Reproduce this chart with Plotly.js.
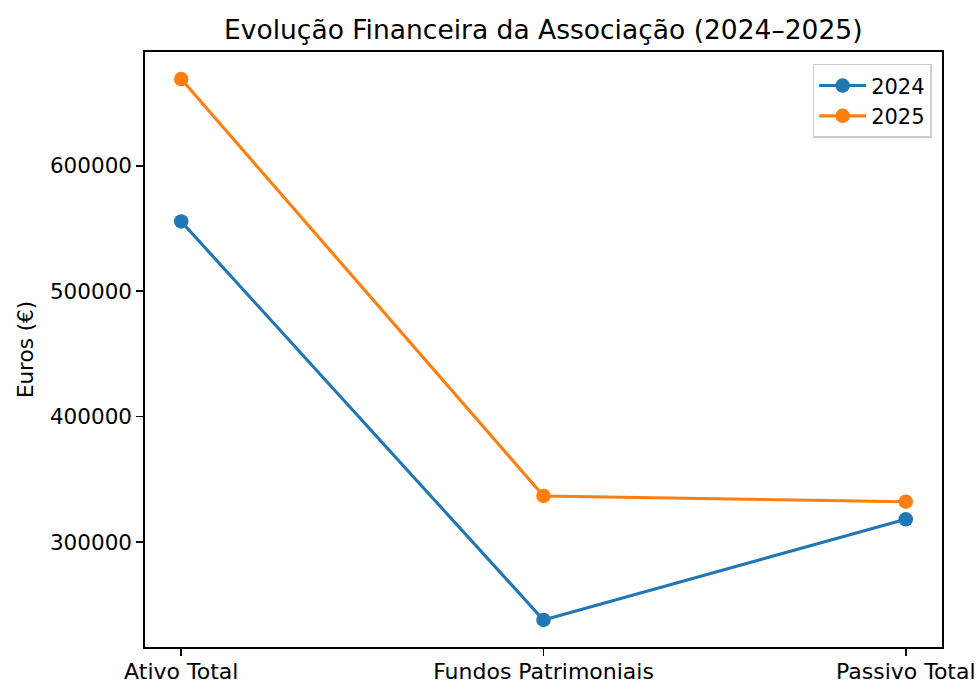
<!DOCTYPE html>
<html>
<head>
<meta charset="utf-8">
<script src="https://cdn.plot.ly/plotly-3.0.1.min.js"></script>
<style>html,body{margin:0;padding:0;background:#fff;}#chart{width:978px;height:684px;}</style>
</head>
<body>
<div id="chart"></div>
<script>
const categories = ["Ativo Total", "Fundos Patrimoniais", "Passivo Total"];
const values2024 = [555600, 237800, 318100];
const values2025 = [669200, 336700, 332100];
const seriesNames = ["2024", "2025"];
const yTickVals = [300000, 400000, 500000, 600000];
const yTickText = ["300000", "400000", "500000", "600000"];

const font = "DejaVu Sans, Liberation Sans, sans-serif";
const allVals = values2024.concat(values2025);
const vmin = Math.min(...allVals), vmax = Math.max(...allVals);
const pad = (vmax - vmin) * 0.05;

const traces = [
  {x: categories, y: values2024, name: seriesNames[0], type: "scatter", mode: "lines+markers",
   line: {color: "#1f77b4", width: 3.1}, marker: {color: "#1f77b4", size: 14.5}},
  {x: categories, y: values2025, name: seriesNames[1], type: "scatter", mode: "lines+markers",
   line: {color: "#ff7f0e", width: 3.1}, marker: {color: "#ff7f0e", size: 14.5}}
];

const layout = {
  width: 978, height: 684,
  margin: {l: 145, r: 36, t: 52, b: 37},
  paper_bgcolor: "#fff", plot_bgcolor: "#fff",
  font: {family: font, size: 22, color: "#000"},
  title: {text: "Evolução Financeira da Associação (2024–2025)", font: {family: font, size: 26.5, color: "#000"},
          x: 0.5555, xanchor: "center", y: 0.957, yanchor: "middle"},
  showlegend: true,
  legend: {x: 0.987, y: 0.98, xanchor: "right", yanchor: "top", bgcolor: "rgba(255,255,255,0.8)",
           bordercolor: "#cccccc", borderwidth: 1.5, itemwidth: 47,
           font: {family: font, size: 21, color: "#000"}},
  xaxis: {type: "category", categoryorder: "array", categoryarray: categories,
          range: [-0.1, 2.1], showgrid: false, zeroline: false,
          showline: true, linecolor: "#000", linewidth: 1.7, mirror: true,
          ticks: "outside", ticklen: 7, tickwidth: 1.7, tickcolor: "#000",
          ticklabelstandoff: -3,
          tickfont: {family: font, size: 22, color: "#000"}},
  yaxis: {range: [vmin - pad, vmax + pad], showgrid: false, zeroline: false,
          showline: true, linecolor: "#000", linewidth: 1.7, mirror: true,
          ticks: "outside", ticklen: 7, tickwidth: 1.7, tickcolor: "#000",
          tickmode: "array", tickvals: yTickVals, ticktext: yTickText,
          tickfont: {family: font, size: 21.5, color: "#000"},
          title: {text: "Euros (€)", font: {family: font, size: 21.5, color: "#000"}, standoff: 10}}
};

Plotly.newPlot("chart", traces, layout, {displayModeBar: false, staticPlot: true});
</script>
</body>
</html>
